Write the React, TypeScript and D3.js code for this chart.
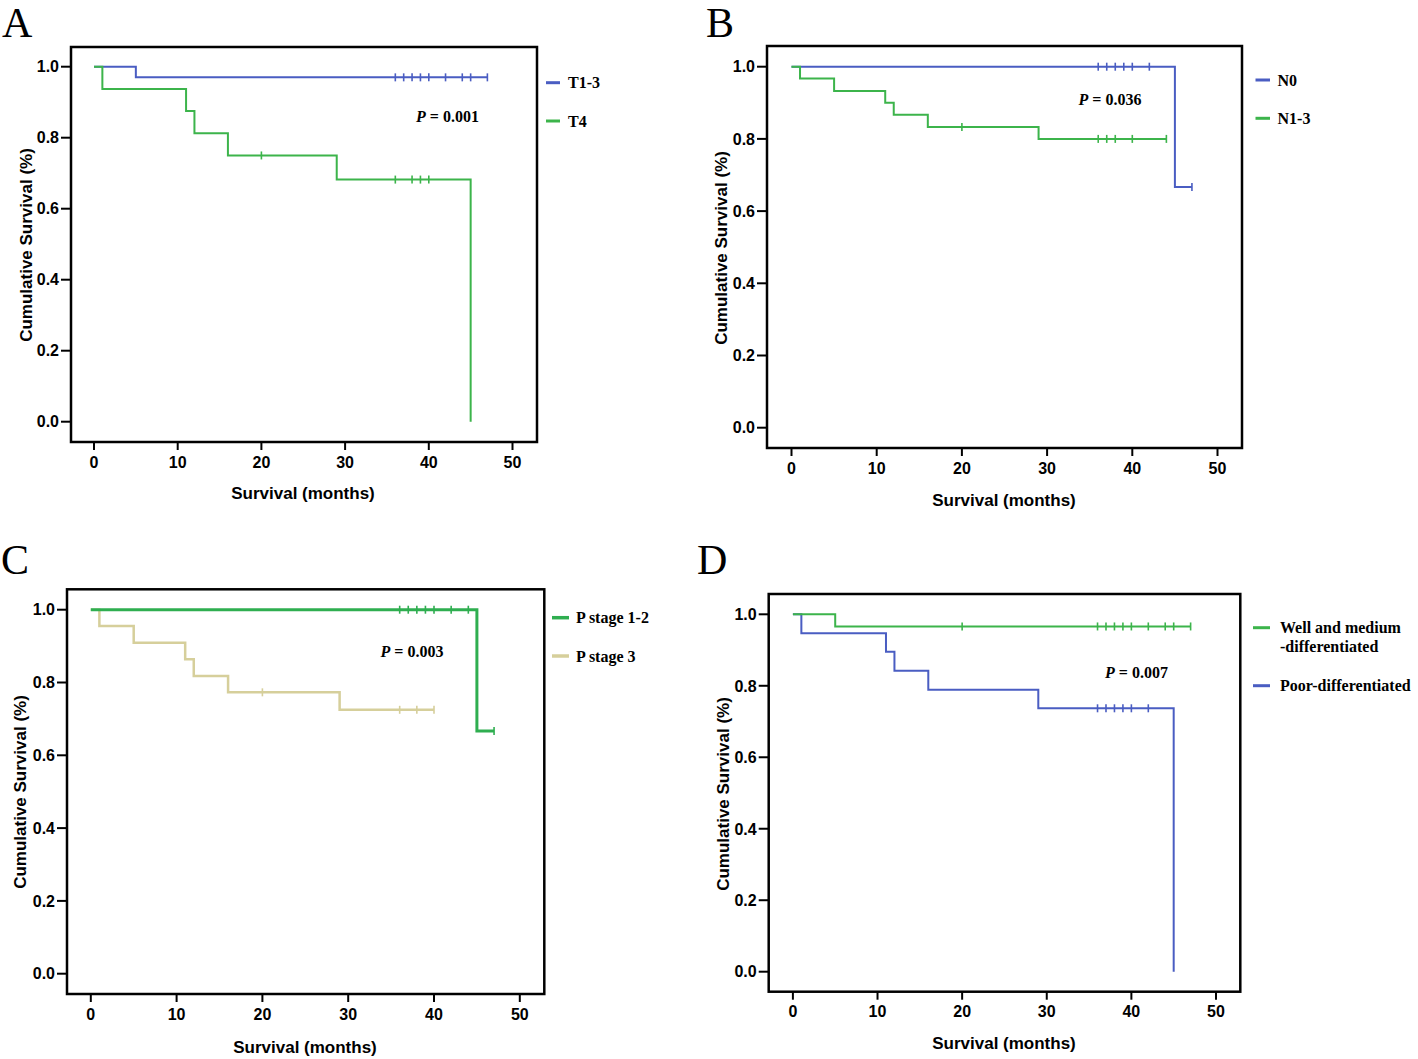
import React from "react";
import * as d3 from "d3";

// ---------- Data ----------
const xTickValues = [0, 10, 20, 30, 40, 50];
const yTickValues = [0, 0.2, 0.4, 0.6, 0.8, 1.0];

// Panel A
const aT13Times = [0, 5, 47];
const aT13Surv = [1, 0.97, 0.97];
const aT13Censor = [36, 37, 38, 39, 40, 42, 44, 45, 47];
const aT4Times = [0, 1, 11, 12, 16, 29, 45];
const aT4Surv = [1, 0.9375, 0.875, 0.8125, 0.75, 0.682, 0];
const aT4Censor = [20, 36, 38, 39, 40];

// Panel B
const bN0Times = [0, 45, 47];
const bN0Surv = [1, 0.667, 0.667];
const bN0Censor = [36, 37, 38, 39, 40, 42, 47];
const bN13Times = [0, 1, 5, 11, 12, 16, 29, 44];
const bN13Surv = [1, 0.967, 0.933, 0.9, 0.867, 0.833, 0.8, 0.8];
const bN13Censor = [20, 36, 37, 38, 40, 44];

// Panel C
const cS12Times = [0, 45, 47];
const cS12Surv = [1, 0.667, 0.667];
const cS12Censor = [36, 37, 38, 39, 40, 42, 44, 47];
const cS3Times = [0, 1, 5, 11, 12, 16, 29, 40];
const cS3Surv = [1, 0.955, 0.909, 0.864, 0.818, 0.773, 0.725, 0.725];
const cS3Censor = [20, 36, 38, 40];

// Panel D
const dWellTimes = [0, 5, 47];
const dWellSurv = [1, 0.966, 0.966];
const dWellCensor = [20, 36, 37, 38, 39, 40, 42, 44, 45, 47];
const dPoorTimes = [0, 1, 11, 12, 16, 29, 45];
const dPoorSurv = [1, 0.947, 0.895, 0.842, 0.789, 0.737, 0];
const dPoorCensor = [36, 37, 38, 39, 40, 42];

const BLUE = "#4a5dc2";
const GREEN = "#3cb44b";
const GREEN2 = "#2fae50";
const KHAKI = "#d6cf9b";

type Series = { times: number[]; surv: number[]; censor: number[]; color: string; width: number };
type Panel = {
  letter: string; letterX: number; letterY: number;
  frame: [number, number, number, number];
  xr: [number, number]; yr: [number, number];
  series: Series[];
  legend: { lines: string[]; color: string; y: number; w: number }[];
  legX1: number; legX2: number; legTextX: number;
  pX: number; pY: number; pVal: string;
  xTitleX: number; xTitleY: number; yTitleX: number; yTitleY: number;
};

const panels: Panel[] = [
  {
    letter: "A", letterX: 2, letterY: 37,
    frame: [71, 47, 537, 442], xr: [94, 512.5], yr: [421.7, 66.7],
    series: [
      { times: aT13Times, surv: aT13Surv, censor: aT13Censor, color: BLUE, width: 2 },
      { times: aT4Times, surv: aT4Surv, censor: aT4Censor, color: GREEN, width: 2 },
    ],
    legend: [
      { lines: ["T1-3"], color: BLUE, y: 82.7, w: 3 },
      { lines: ["T4"], color: GREEN, y: 121, w: 3 },
    ],
    legX1: 546, legX2: 560, legTextX: 568,
    pX: 416, pY: 116, pVal: "0.001",
    xTitleX: 303, xTitleY: 493, yTitleX: 26, yTitleY: 245,
  },
  {
    letter: "B", letterX: 706, letterY: 37,
    frame: [767, 46, 1242, 448], xr: [791.5, 1217.5], yr: [427.7, 66.7],
    series: [
      { times: bN0Times, surv: bN0Surv, censor: bN0Censor, color: BLUE, width: 2 },
      { times: bN13Times, surv: bN13Surv, censor: bN13Censor, color: GREEN, width: 2 },
    ],
    legend: [
      { lines: ["N0"], color: BLUE, y: 80, w: 3 },
      { lines: ["N1-3"], color: GREEN, y: 118.3, w: 3 },
    ],
    legX1: 1255.5, legX2: 1270, legTextX: 1277.5,
    pX: 1078.5, pY: 99.3, pVal: "0.036",
    xTitleX: 1004, xTitleY: 500, yTitleX: 721, yTitleY: 248,
  },
  {
    letter: "C", letterX: 1, letterY: 574,
    frame: [67, 589.3, 544.3, 994], xr: [90.8, 519.8], yr: [973.7, 609.7],
    series: [
      { times: cS3Times, surv: cS3Surv, censor: cS3Censor, color: KHAKI, width: 2.5 },
      { times: cS12Times, surv: cS12Surv, censor: cS12Censor, color: GREEN2, width: 3 },
    ],
    legend: [
      { lines: ["P stage 1-2"], color: GREEN2, y: 617.7, w: 3.5 },
      { lines: ["P stage 3"], color: KHAKI, y: 656, w: 3.5 },
    ],
    legX1: 552, legX2: 569, legTextX: 576,
    pX: 380.5, pY: 651.7, pVal: "0.003",
    xTitleX: 305, xTitleY: 1047, yTitleX: 20, yTitleY: 792,
  },
  {
    letter: "D", letterX: 697, letterY: 574,
    frame: [768.7, 594, 1240.3, 991.7], xr: [792.9, 1216], yr: [971.7, 614.3],
    series: [
      { times: dPoorTimes, surv: dPoorSurv, censor: dPoorCensor, color: BLUE, width: 2 },
      { times: dWellTimes, surv: dWellSurv, censor: dWellCensor, color: GREEN, width: 2 },
    ],
    legend: [
      { lines: ["Well and medium", "-differentiated"], color: GREEN, y: 627.7, w: 3 },
      { lines: ["Poor-differentiated"], color: BLUE, y: 685.7, w: 3 },
    ],
    legX1: 1253, legX2: 1270, legTextX: 1280,
    pX: 1105, pY: 672.7, pVal: "0.007",
    xTitleX: 1004, xTitleY: 1043, yTitleX: 723, yTitleY: 794,
  },
];

const SANS = "'Liberation Sans', Arial, sans-serif";
const SERIF = "'Liberation Serif', 'Times New Roman', serif";

function stepValue(times: number[], surv: number[], t: number) {
  let v = surv[0];
  for (let i = 0; i < times.length; i++) {
    if (times[i] < t || (times[i] === t && i < times.length - 1 && surv[i] > 0)) v = surv[i];
  }
  return v;
}

function PanelView({ p }: { p: Panel }) {
  const x = d3.scaleLinear().domain([0, 50]).range(p.xr);
  const y = d3.scaleLinear().domain([0, 1]).range(p.yr);
  const [fl, ft, fr, fb] = p.frame;
  const line = d3
    .line<[number, number]>()
    .x((d) => x(d[0]))
    .y((d) => y(d[1]))
    .curve(d3.curveStepAfter);

  return (
    <g>
      <text x={p.letterX} y={p.letterY} fontFamily={SERIF} fontSize={42} fill="#000">
        {p.letter}
      </text>
      {/* curves */}
      {p.series.map((s, i) => {
        const pts = s.times.map((t, j) => [t, s.surv[j]] as [number, number]);
        return (
          <g key={i}>
            <path d={line(pts) || ""} fill="none" stroke={s.color} strokeWidth={s.width} />
            {s.censor.map((c, k) => {
              const v = stepValue(s.times, s.surv, c);
              return (
                <line key={k} x1={x(c)} x2={x(c)} y1={y(v) - 4} y2={y(v) + 4}
                  stroke={s.color} strokeWidth={1.6} />
              );
            })}
          </g>
        );
      })}
      {/* frame */}
      <rect x={fl} y={ft} width={fr - fl} height={fb - ft} fill="none" stroke="#000" strokeWidth={2.5} />
      {/* y ticks */}
      {yTickValues.map((v) => (
        <g key={"y" + v}>
          <line x1={fl - 10} x2={fl} y1={y(v)} y2={y(v)} stroke="#000" strokeWidth={2} />
          <text x={fl - 12} y={y(v)} dy="0.36em" textAnchor="end" fontFamily={SANS}
            fontWeight="bold" fontSize={16} fill="#000">
            {v.toFixed(1)}
          </text>
        </g>
      ))}
      {/* x ticks */}
      {xTickValues.map((v) => (
        <g key={"x" + v}>
          <line x1={x(v)} x2={x(v)} y1={fb} y2={fb + 8} stroke="#000" strokeWidth={2} />
          <text x={x(v)} y={fb + 20} dy="0.36em" textAnchor="middle" fontFamily={SANS}
            fontWeight="bold" fontSize={16} fill="#000">
            {v}
          </text>
        </g>
      ))}
      {/* axis titles */}
      <text x={p.xTitleX} y={p.xTitleY} dy="0.36em" textAnchor="middle" fontFamily={SANS}
        fontWeight="bold" fontSize={17} fill="#000">
        Survival (months)
      </text>
      <text transform={`translate(${p.yTitleX},${p.yTitleY}) rotate(-90)`} dy="0.36em"
        textAnchor="middle" fontFamily={SANS} fontWeight="bold" fontSize={17} fill="#000">
        Cumulative Survival (%)
      </text>
      {/* legend */}
      {p.legend.map((l, i) => (
        <g key={"l" + i}>
          <line x1={p.legX1} x2={p.legX2} y1={l.y} y2={l.y} stroke={l.color} strokeWidth={l.w} />
          {l.lines.map((t, k) => (
            <text key={k} x={p.legTextX} y={l.y + k * 19} dy="0.35em" fontFamily={SERIF}
              fontWeight="bold" fontSize={16} fill="#000">
              {t}
            </text>
          ))}
        </g>
      ))}
      {/* p value */}
      <text x={p.pX} y={p.pY} dy="0.35em" fontFamily={SERIF} fontWeight="bold" fontSize={16} fill="#000">
        <tspan fontStyle="italic">P</tspan>
        <tspan> = {p.pVal}</tspan>
      </text>
    </g>
  );
}

export default function App() {
  return (
    <svg width={1418} height={1059} style={{ position: "absolute", left: 0, top: 0, background: "#fff" }}>
      <rect x={0} y={0} width={1418} height={1059} fill="#fff" />
      {panels.map((p) => (
        <PanelView key={p.letter} p={p} />
      ))}
    </svg>
  );
}
